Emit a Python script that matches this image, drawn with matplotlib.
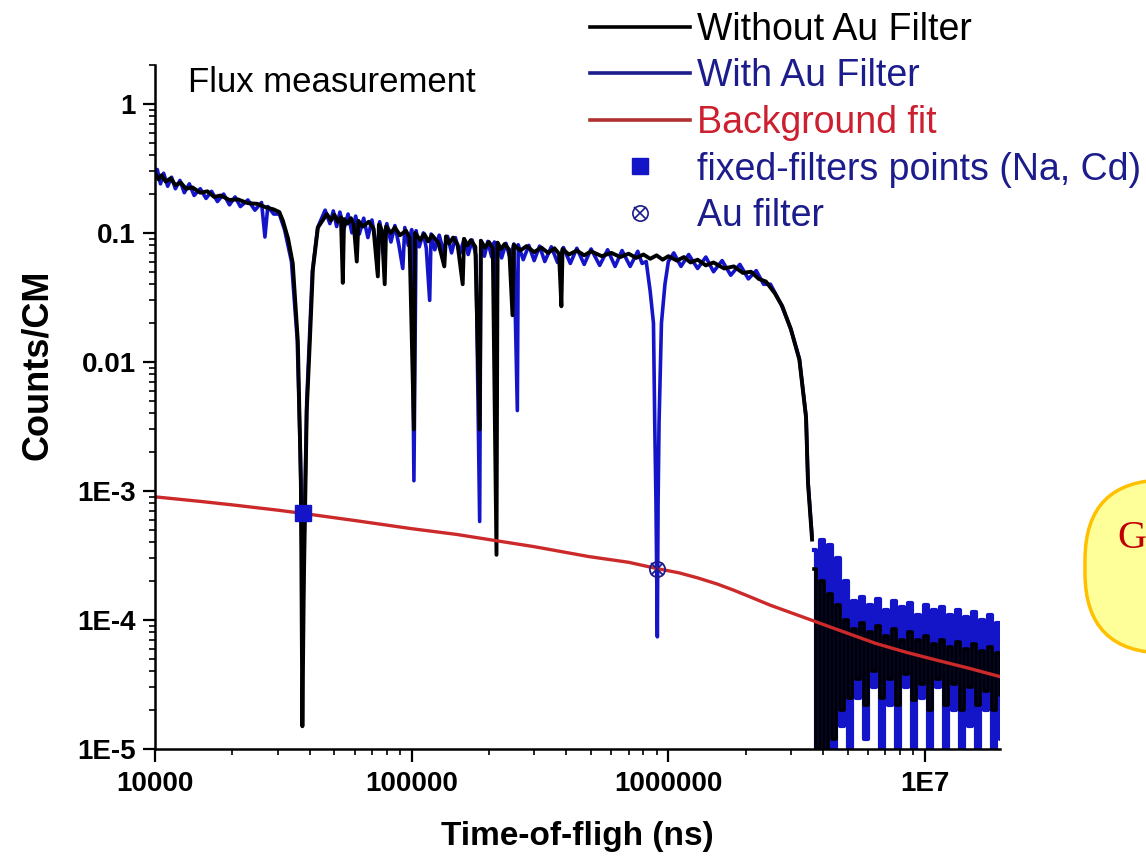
import matplotlib
matplotlib.use("Agg")
import matplotlib.pyplot as plt
from matplotlib.lines import Line2D
from matplotlib.patches import FancyBboxPatch
from matplotlib.legend_handler import HandlerTuple
from matplotlib.ticker import FixedLocator, FixedFormatter, NullFormatter

plt.rcParams["font.family"] = ["Liberation Sans", "DejaVu Sans"]

# --- values ------------------------------------------------------------
black_x = [1.00e4, 1.03e4, 1.06e4, 1.10e4, 1.15e4, 1.20e4, 1.26e4, 1.32e4, 1.40e4, 1.50e4,
           1.60e4, 1.70e4, 1.80e4, 1.95e4, 2.10e4, 2.30e4, 2.50e4, 2.70e4, 2.90e4, 3.05e4,
           3.15e4, 3.30e4, 3.44e4, 3.60e4, 3.70e4, 3.75e4, 3.80e4, 3.90e4, 4.01e4, 4.12e4,
           4.31e4, 4.67e4, 4.85e4, 5.00e4, 5.15e4, 5.30e4, 5.39e4, 5.45e4, 5.62e4, 5.80e4,
           5.95e4, 6.11e4, 6.20e4, 6.45e4, 6.80e4, 7.10e4, 7.38e4, 7.45e4, 7.65e4, 7.85e4,
           7.95e4, 8.30e4, 8.60e4, 9.00e4, 9.50e4, 9.80e4, 1.02e5, 1.03e5, 1.08e5, 1.12e5,
           1.16e5, 1.20e5, 1.27e5, 1.34e5, 1.36e5, 1.40e5, 1.45e5, 1.51e5, 1.58e5, 1.60e5,
           1.65e5, 1.70e5, 1.77e5, 1.84e5, 1.86e5, 1.93e5, 2.00e5, 2.07e5, 2.14e5, 2.16e5,
           2.23e5, 2.30e5, 2.40e5, 2.47e5, 2.50e5, 2.65e5, 2.80e5, 3.00e5, 3.20e5, 3.40e5,
           3.60e5, 3.75e5, 3.83e5, 3.87e5, 4.10e5, 4.40e5, 4.70e5, 5.00e5, 5.50e5, 6.00e5,
           6.50e5, 7.00e5, 7.50e5, 8.00e5, 8.50e5, 9.00e5, 9.50e5, 1.00e6, 1.08e6, 1.15e6,
           1.22e6, 1.30e6, 1.40e6, 1.50e6, 1.65e6, 1.80e6, 1.95e6, 2.10e6, 2.25e6, 2.40e6,
           2.60e6, 2.78e6, 3.00e6, 3.24e6, 3.44e6, 3.50e6, 3.63e6]
black_y = [0.29, 0.26, 0.28, 0.25, 0.265, 0.235, 0.245, 0.22, 0.225, 0.205,
           0.21, 0.19, 0.195, 0.18, 0.182, 0.17, 0.168, 0.158, 0.152, 0.145,
           0.124, 0.09, 0.058, 0.0145, 1.2e-3, 1.5e-5, 2e-4, 4.2e-3, 0.0145, 0.052,
           0.11, 0.14, 0.125, 0.138, 0.122, 0.132, 0.041, 0.128, 0.118, 0.13,
           0.115, 0.06, 0.124, 0.112, 0.122, 0.108, 0.046, 0.116, 0.105, 0.04,
           0.112, 0.1, 0.11, 0.096, 0.104, 0.092, 3e-3, 0.1, 0.088, 0.098,
           0.086, 0.096, 0.084, 0.055, 0.094, 0.083, 0.092, 0.081, 0.04, 0.09,
           0.08, 0.088, 0.078, 3e-3, 0.087, 0.077, 0.085, 0.076, 3.2e-4, 0.084,
           0.075, 0.082, 0.074, 0.023, 0.081, 0.073, 0.079, 0.071, 0.077, 0.07,
           0.076, 0.069, 0.027, 0.075, 0.068, 0.073, 0.067, 0.072, 0.066, 0.07,
           0.065, 0.069, 0.064, 0.068, 0.063, 0.067, 0.062, 0.066, 0.061, 0.065,
           0.059, 0.062, 0.056, 0.059, 0.053, 0.055, 0.049, 0.05, 0.044, 0.042,
           0.034, 0.027, 0.018, 0.0104, 0.0037, 1.15e-3, 4.2e-4]

blue_x = [1.00e4, 1.02e4, 1.05e4, 1.08e4, 1.12e4, 1.16e4, 1.20e4, 1.25e4, 1.30e4, 1.36e4,
          1.42e4, 1.50e4, 1.58e4, 1.66e4, 1.75e4, 1.85e4, 1.95e4, 2.05e4, 2.15e4, 2.30e4,
          2.45e4, 2.60e4, 2.68e4, 2.75e4, 2.90e4, 3.05e4, 3.20e4, 3.40e4, 3.58e4, 3.68e4,
          3.74e4, 3.78e4, 3.82e4, 3.90e4, 4.00e4, 4.10e4, 4.30e4, 4.60e4, 4.80e4, 4.95e4,
          5.10e4, 5.25e4, 5.45e4, 5.65e4, 5.85e4, 6.05e4, 6.25e4, 6.50e4, 6.75e4, 7.00e4,
          7.20e4, 7.38e4, 7.50e4, 7.75e4, 8.00e4, 8.30e4, 8.60e4, 8.90e4, 9.23e4, 9.40e4,
          9.70e4, 1.00e5, 1.02e5, 1.04e5, 1.07e5, 1.11e5, 1.14e5, 1.175e5, 1.19e5, 1.23e5,
          1.28e5, 1.33e5, 1.38e5, 1.43e5, 1.48e5, 1.54e5, 1.60e5, 1.66e5, 1.72e5, 1.78e5,
          1.84e5, 1.86e5, 1.92e5, 1.98e5, 2.05e5, 2.10e5, 2.14e5, 2.16e5, 2.24e5, 2.33e5,
          2.42e5, 2.50e5, 2.58e5, 2.60e5, 2.72e5, 2.86e5, 3.00e5, 3.15e5, 3.30e5, 3.50e5,
          3.70e5, 3.90e5, 4.15e5, 4.40e5, 4.70e5, 5.00e5, 5.40e5, 5.80e5, 6.20e5, 6.60e5,
          7.10e5, 7.60e5, 7.90e5, 8.20e5, 8.50e5, 8.75e5, 8.85e5, 8.95e5, 9.06e5, 9.12e5,
          9.20e5, 9.40e5, 9.70e5, 1.00e6, 1.05e6, 1.12e6, 1.20e6, 1.30e6, 1.40e6, 1.50e6,
          1.62e6, 1.75e6, 1.90e6, 2.05e6, 2.20e6, 2.35e6, 2.50e6, 2.75e6, 3.00e6, 3.24e6,
          3.44e6, 3.50e6, 3.63e6]
blue_y = [0.27, 0.31, 0.24, 0.29, 0.23, 0.27, 0.22, 0.255, 0.205, 0.24,
          0.195, 0.22, 0.185, 0.21, 0.175, 0.2, 0.165, 0.19, 0.16, 0.18,
          0.15, 0.172, 0.093, 0.16, 0.14, 0.14, 0.105, 0.06, 0.015, 2e-3,
          2.6e-4, 1.5e-4, 6e-4, 5e-3, 0.016, 0.05, 0.11, 0.15, 0.118, 0.148,
          0.112, 0.145, 0.108, 0.14, 0.1, 0.135, 0.098, 0.13, 0.092, 0.126,
          0.09, 0.05, 0.122, 0.088, 0.118, 0.085, 0.114, 0.082, 0.053, 0.11,
          0.08, 0.106, 1.2e-3, 0.104, 0.078, 0.1, 0.076, 0.030, 0.098, 0.074,
          0.096, 0.072, 0.094, 0.07, 0.092, 0.069, 0.09, 0.068, 0.088, 0.067,
          5.8e-4, 0.087, 0.066, 0.086, 0.065, 0.085, 0.005, 0.084, 0.064, 0.083,
          0.063, 0.082, 4.2e-3, 0.081, 0.062, 0.08, 0.061, 0.079, 0.06, 0.078,
          0.059, 0.077, 0.058, 0.076, 0.057, 0.075, 0.056, 0.074, 0.055, 0.073,
          0.055, 0.072, 0.058, 0.06, 0.035, 0.02, 3.4e-3, 8e-4, 7.4e-5, 8e-4,
          3.4e-3, 0.02, 0.04, 0.06, 0.07, 0.055, 0.068, 0.053, 0.065, 0.05,
          0.061, 0.047, 0.057, 0.044, 0.051, 0.04, 0.04, 0.028, 0.018, 0.0106,
          0.0038, 1.2e-3, 4.5e-4]

# noisy tail after the cut-off
tail_x = [3.70e6, 3.84e6, 3.98e6, 4.12e6, 4.27e6, 4.43e6, 4.59e6, 4.76e6, 4.93e6, 5.11e6,
          5.30e6, 5.49e6, 5.69e6, 5.90e6, 6.11e6, 6.34e6, 6.57e6, 6.81e6, 7.06e6, 7.31e6,
          7.58e6, 7.86e6, 8.14e6, 8.44e6, 8.75e6, 9.07e6, 9.40e6, 9.74e6, 1.01e7, 1.05e7,
          1.08e7, 1.12e7, 1.16e7, 1.21e7, 1.25e7, 1.30e7, 1.34e7, 1.39e7, 1.44e7, 1.50e7,
          1.55e7, 1.61e7, 1.67e7, 1.73e7, 1.79e7, 1.86e7, 1.93e7, 2.00e7]
tail_blue = [3.5e-4, 6e-6, 4.2e-4, 1e-5, 3.8e-4, 8e-6, 3.0e-4, 1.5e-5,
             2.0e-4, 6e-6, 1.4e-4, 2.5e-5, 1.5e-4, 1.2e-5, 1.3e-4, 3e-5, 1.45e-4, 6e-6,
             1.2e-4, 2.2e-5, 1.4e-4, 8e-6, 1.25e-4, 3e-5, 1.35e-4, 6e-6, 1.1e-4, 2.5e-5,
             1.3e-4, 9e-6, 1.2e-4, 3e-5, 1.25e-4, 7e-6, 1.1e-4, 2e-5, 1.2e-4, 6e-6,
             1.05e-4, 1.5e-5, 1.15e-4, 6e-6, 1.0e-4, 2e-5, 1.1e-4, 7e-6, 9.5e-5, 1.2e-5]
tail_black = [2.5e-4, 8e-6, 2.0e-4, 6e-6, 1.6e-4, 1.2e-5, 1.3e-4, 2e-5,
              1.0e-4, 2.5e-5, 8.5e-5, 3.5e-5, 9.5e-5, 2.2e-5, 8e-5, 4e-5, 9e-5, 2.5e-5,
              7.5e-5, 3.5e-5, 8.5e-5, 2.2e-5, 7e-5, 3.8e-5, 8e-5, 2.4e-5, 7e-5, 3.2e-5,
              7.5e-5, 2e-5, 6.5e-5, 3.5e-5, 7e-5, 2.2e-5, 6.2e-5, 3.2e-5, 6.8e-5, 2e-5,
              6e-5, 3e-5, 6.5e-5, 2.2e-5, 5.8e-5, 2.8e-5, 6.2e-5, 2e-5, 5.5e-5, 2.6e-5]

fit_x = [1.0e4, 1.5e4, 2.0e4, 3.0e4, 3.77e4, 6.0e4, 1.0e5, 1.5e5, 2.0e5, 3.0e5,
         4.9e5, 7.0e5, 9.06e5, 1.1e6, 1.3e6, 1.55e6, 1.8e6, 2.1e6, 2.5e6, 3.0e6,
         3.5e6, 4.5e6, 6.4e6, 8.5e6, 1.06e7, 1.5e7, 2.0e7]
fit_y = [9.0e-4, 8.3e-4, 7.8e-4, 7.1e-4, 6.7e-4, 5.9e-4, 5.1e-4, 4.6e-4, 4.2e-4, 3.7e-4,
         3.1e-4, 2.8e-4, 2.5e-4, 2.32e-4, 2.12e-4, 1.9e-4, 1.7e-4, 1.5e-4, 1.3e-4, 1.14e-4,
         1.02e-4, 8.5e-5, 6.6e-5, 5.6e-5, 5.0e-5, 4.2e-5, 3.6e-5]

na_x, na_y = [3.77e4], [6.7e-4]
au_x, au_y = [9.06e5], [2.5e-4]

xticks = [1e4, 1e5, 1e6, 1e7]
xtick_labels = ["10000", "100000", "1000000", "1E7"]
yticks = [1e-5, 1e-4, 1e-3, 1e-2, 1e-1, 1]
ytick_labels = ["1E-5", "1E-4", "1E-3", "0.01", "0.1", "1"]

legend_labels = ["Without Au Filter", "With Au Filter", "Background fit",
                 "fixed-filters points (Na, Cd)", "Au filter"]

BLUE = "#1414c8"
NAVY = "#1c1c8c"
RED = "#cc2a2a"

# --- figure --------------------------------------------------------------
fig = plt.figure(figsize=(11.46, 8.66), dpi=100)
ax = fig.add_axes([0.1353, 0.1351, 0.7373, 0.7898])

ax.plot(blue_x, blue_y, color=BLUE, lw=2.6)
ax.plot(tail_x, tail_blue, color=BLUE, lw=3.0, drawstyle="steps-mid")
ax.plot(black_x, black_y, color="black", lw=2.8)
ax.plot(tail_x, tail_black, color="black", lw=2.6, drawstyle="steps-mid")
ax.plot(fit_x, fit_y, color=RED, lw=2.4)
ax.plot(na_x, na_y, "s", color=BLUE, ms=12)
ax.plot(au_x, au_y, "o", mfc="none", mec=NAVY, ms=11, mew=1.3)
ax.plot(au_x, au_y, "x", color=NAVY, ms=8, mew=1.3)

ax.set_xscale("log")
ax.set_yscale("log")
ax.set_xlim(1e4, 1.96e7)
ax.set_ylim(1e-5, 2.0)

ax.xaxis.set_major_locator(FixedLocator(xticks))
ax.xaxis.set_major_formatter(FixedFormatter(xtick_labels))
ax.yaxis.set_major_locator(FixedLocator(yticks))
ax.yaxis.set_major_formatter(FixedFormatter(ytick_labels))
ax.xaxis.set_minor_formatter(NullFormatter())
ax.yaxis.set_minor_formatter(NullFormatter())

for side in ["top", "right"]:
    ax.spines[side].set_visible(False)
for side in ["left", "bottom"]:
    ax.spines[side].set_linewidth(1.8)
ax.tick_params(which="major", direction="out", length=9, width=1.6, labelsize=20)
ax.tick_params(which="minor", direction="out", length=4.5, width=1.2)
ax.tick_params(axis="x", which="major", pad=7)
ax.tick_params(axis="y", which="major", pad=5)
for lab in ax.get_xticklabels() + ax.get_yticklabels():
    lab.set_fontweight("bold")

ax.set_xlabel("Time-of-fligh (ns)", fontsize=24, fontweight="bold")
ax.set_ylabel("Counts/CM", fontsize=26, fontweight="bold")
ax.xaxis.set_label_coords(0.5, -0.105)
ax.yaxis.set_label_coords(-0.118, 0.561)

fig.text(188 / 1146, 1 - 92 / 866, "Flux measurement", fontsize=25, va="baseline")

handles = [Line2D([], [], color="black", lw=2.6),
           Line2D([], [], color=NAVY, lw=2.6),
           Line2D([], [], color="#b03030", lw=2.6),
           Line2D([], [], marker="s", ls="none", color=BLUE, ms=12),
           (Line2D([], [], marker="o", ls="none", mfc="none", mec=NAVY, ms=11, mew=1.2),
            Line2D([], [], marker="x", ls="none", color=NAVY, ms=8, mew=1.2))]
leg = fig.legend(handles, legend_labels, loc="upper left",
                 bbox_to_anchor=(590 / 1146, 1 - 12 / 866), frameon=False,
                 fontsize=27, handlelength=2.67, handletextpad=0.19,
                 labelspacing=0.28, borderpad=0, borderaxespad=0,
                 handler_map={tuple: HandlerTuple(ndivide=1)})
for txt, col in zip(leg.get_texts(), ["black", NAVY, "#cc1f2f", NAVY, NAVY]):
    txt.set_color(col)

# clipped callout box at the right edge
callout = FancyBboxPatch((10.85, 2.13), 1.5, 1.73,
                         boxstyle="round,pad=0,rounding_size=0.8",
                         transform=fig.dpi_scale_trans,
                         facecolor="#ffff99", edgecolor="#ffc000", lw=2.5)
fig.patches.append(callout)
fig.text(1117 / 1146, 1 - 548 / 866, "G", fontsize=29, color="#c00000",
         family="Liberation Serif", va="baseline")

fig.savefig("out.png", dpi=100)
